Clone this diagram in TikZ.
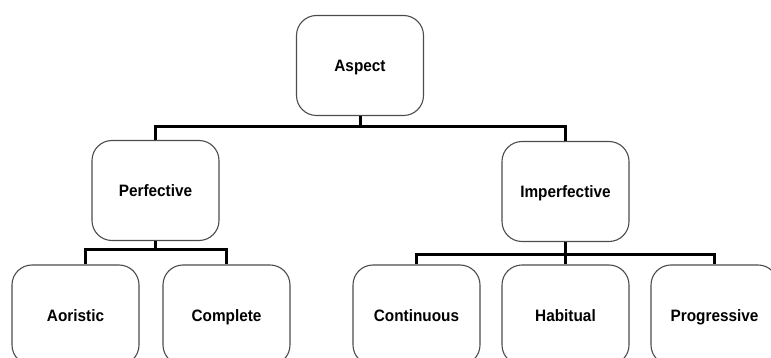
\documentclass[tikz,border=0pt]{standalone}
\usepackage{fontspec}
\setmainfont{Liberation Sans}
\newfontfamily\labelfont[FakeStretch=0.93]{Liberation Sans}
\begin{document}
\begin{tikzpicture}[x=1pt,y=-1pt,
  box/.style={draw=black!70, line width=1.1pt, rounded corners=20pt,
    minimum width=127pt, minimum height=100pt, inner sep=0pt,
    text height=13pt, text depth=0.2pt,
    font=\labelfont\fontsize{16.5}{19}\selectfont\bfseries},
  link/.style={line width=3pt, black, line join=miter}]
\useasboundingbox (0,0) rectangle (771,358);
\clip (0,0) rectangle (771,358);
% tree nodes
\node[box] (aspect) at (360,65.5) {Aspect};
\node[box] (perf) at (155.5,190.5) {Perfective};
\node[box] (imp) at (565.5,191.5) {Imperfective};
\node[box] (aor) at (75.5,315) {Aoristic};
\node[box] (comp) at (226.5,315) {Complete};
\node[box] (cont) at (416.5,315) {Continuous};
\node[box] (hab) at (565.5,315) {Habitual};
\node[box] (prog) at (714.5,315) {Progressive};
% bar levels
\coordinate (bar0) at (0,127);
\coordinate (bar1) at (0,249);
\coordinate (bar2) at (0,254);
\coordinate (aorjoin) at ([xshift=9.5pt]aor.north);
% Aspect -> Perfective / Imperfective
\draw[link] (aspect.south) -- (aspect.south |- bar0);
\draw[link] (perf.north) -- (perf.north |- bar0) -- (imp.north |- bar0) -- (imp.north);
% Perfective -> Aoristic / Complete
\draw[link] (perf.south) -- (perf.south |- bar1);
\draw[link] (aorjoin) -- (aorjoin |- bar1) -- (comp.north |- bar1) -- (comp.north);
% Imperfective -> Continuous / Habitual / Progressive
\draw[link] (imp.south) -- (hab.north);
\draw[link] (cont.north) -- (cont.north |- bar2) -- (prog.north |- bar2) -- (prog.north);
\end{tikzpicture}
\end{document}
